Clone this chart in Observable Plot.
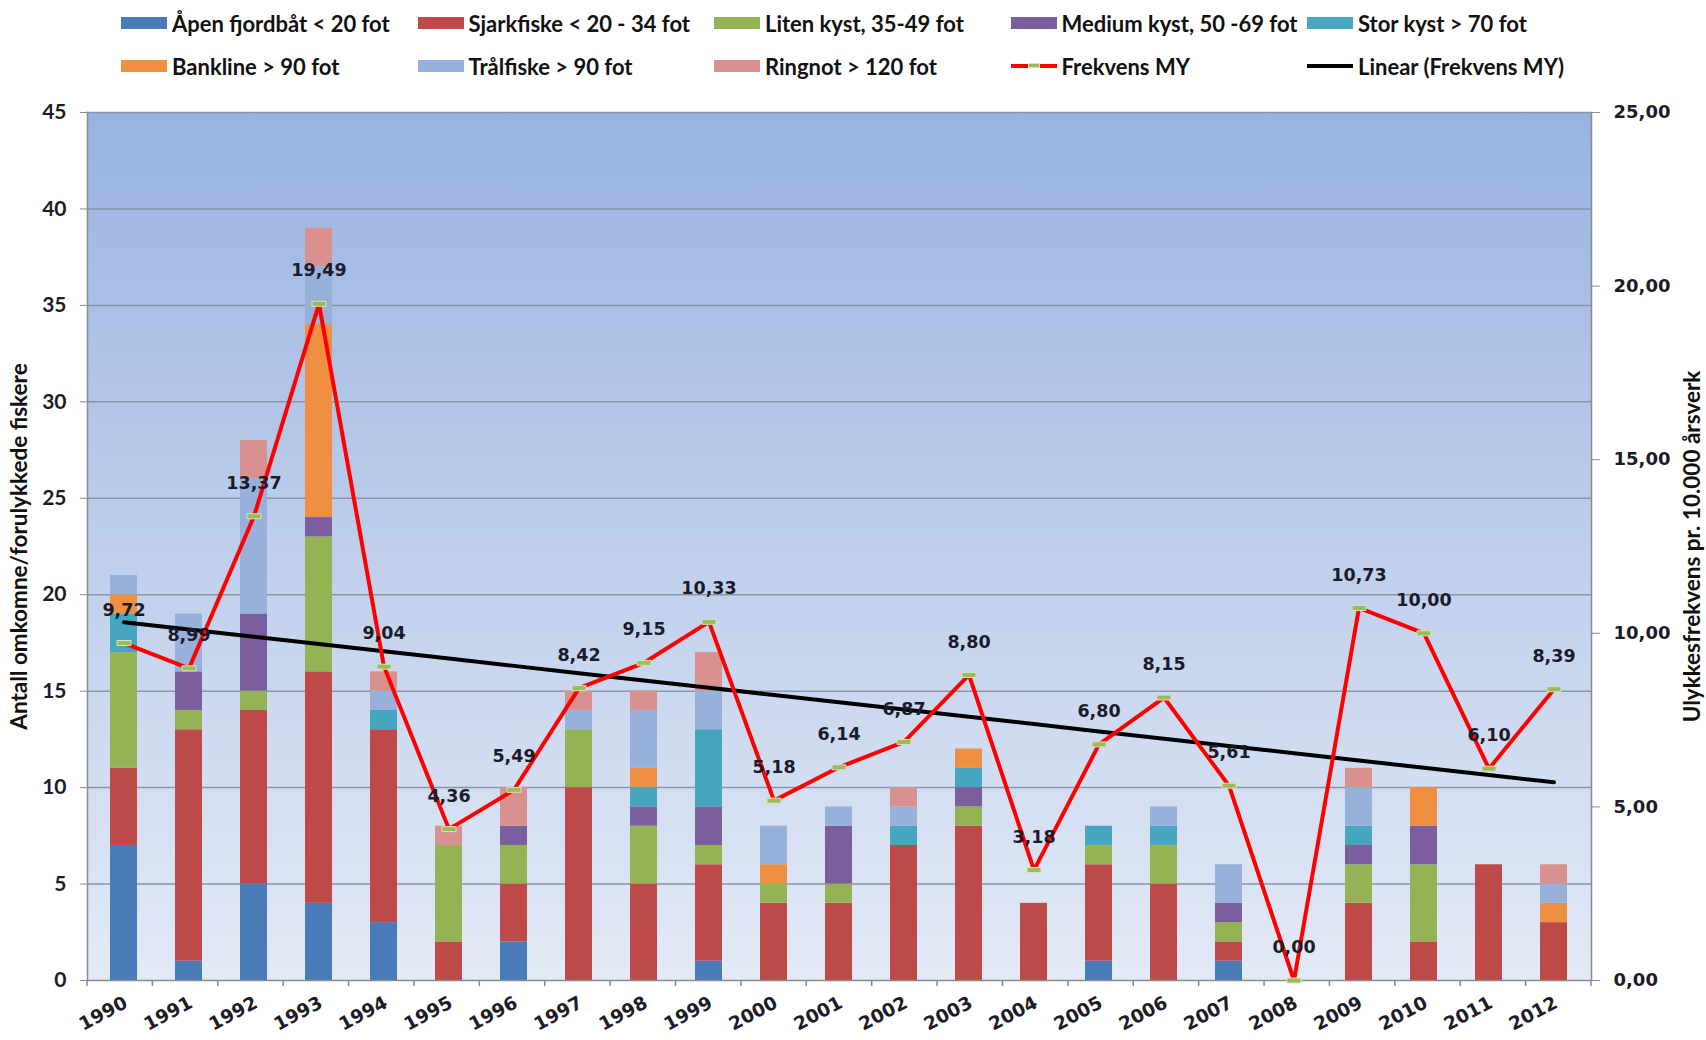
<!DOCTYPE html>
<html><head><meta charset="utf-8">
<script src="https://cdn.jsdelivr.net/npm/d3@7"></script>
<script src="https://cdn.jsdelivr.net/npm/@observablehq/plot@0.6"></script>
<style>
body{margin:0;background:#fff;width:1706px;height:1040px;overflow:hidden;}
#legend{position:relative;height:95px;width:1706px;font-family:Lato, sans-serif;font-weight:bold;font-size:22px;color:#111;}
.item{position:absolute;display:flex;align-items:center;height:28px;white-space:nowrap;}
.sw{width:46px;height:12px;margin-right:5px;}
.ln{width:46px;height:4px;margin-right:5px;position:relative;}
.mk{position:absolute;left:17px;top:-1px;width:12px;height:5px;background:#9bbb59;border:0.5px solid #d7e4bd;box-sizing:border-box;}
#chart svg{display:block;}
</style></head><body>
<div id="legend"></div>
<div id="chart"></div>
<script>
const years = ["1990","1991","1992","1993","1994","1995","1996","1997","1998","1999","2000","2001","2002","2003","2004","2005","2006","2007","2008","2009","2010","2011","2012"];
const categories = ["Åpen fjordbåt < 20 fot","Sjarkfiske < 20 - 34 fot","Liten kyst, 35-49 fot","Medium kyst, 50 -69 fot","Stor kyst > 70 fot","Bankline > 90 fot","Trålfiske > 90 fot","Ringnot > 120 fot"];
const colors = ["#4a7bb9","#bd4a48","#93b355","#7b5e9e","#46a6bf","#ef8f42","#98b1da","#d9918f"];
const aapen    = [7,1,5,4,3,0,2,0,0,1,0,0,0,0,0,1,0,1,0,0,0,0,0];
const sjark    = [4,12,9,12,10,2,3,10,5,5,4,4,7,8,4,5,5,1,0,4,2,6,3];
const liten    = [6,1,1,7,0,5,2,3,3,1,1,1,0,1,0,1,2,1,0,2,4,0,0];
const medium   = [0,2,4,1,0,0,1,0,1,2,0,3,0,1,0,0,0,1,0,1,2,0,0];
const stor     = [2,0,0,0,1,0,0,0,1,4,0,0,1,1,0,1,1,0,0,1,0,0,0];
const bankline = [1,0,0,10,0,0,0,0,1,0,1,0,0,1,0,0,0,0,0,0,2,0,1];
const traal    = [1,3,7,3,1,0,0,1,3,2,2,1,1,0,0,0,1,2,0,2,0,0,1];
const ringnot  = [0,0,2,2,1,1,2,1,1,2,0,0,1,0,0,0,0,0,0,1,0,0,1];
const frekvens = [9.72,8.99,13.37,19.49,9.04,4.36,5.49,8.42,9.15,10.33,5.18,6.14,6.87,8.80,3.18,6.80,8.15,5.61,0.00,10.73,10.00,6.10,8.39];
const leftTicks = [0,5,10,15,20,25,30,35,40,45];
const rightTicks = [0,5,10,15,20,25];
const leftTitle = "Antall omkomne/forulykkede fiskere";
const rightTitle = "Ulykkesfrekvens pr. 10.000 årsverk";
const lineName = "Frekvens MY";
const trendName = "Linear (Frekvens MY)";

// legend
const legend = document.getElementById("legend");
const items = categories.map((c,i)=>({name:c, type:"bar", color:colors[i]}));
items.push({name:lineName, type:"line"}, {name:trendName, type:"trend"});
items.forEach((it,i)=>{
  const row = i < 5 ? 0 : 1, col = i % 5;
  const d = document.createElement("div");
  d.className = "item";
  d.style.left = (121 + col*296.5) + "px";
  d.style.top = (row === 0 ? 9 : 52) + "px";
  let sw;
  if (it.type === "bar") { sw = document.createElement("div"); sw.className = "sw"; sw.style.background = it.color; }
  else if (it.type === "line") { sw = document.createElement("div"); sw.className = "ln"; sw.style.background = "#ff0000"; const m = document.createElement("div"); m.className = "mk"; sw.appendChild(m); }
  else { sw = document.createElement("div"); sw.className = "ln"; sw.style.background = "#000"; }
  d.appendChild(sw);
  const t = document.createElement("span"); t.textContent = it.name; d.appendChild(t);
  legend.appendChild(d);
});

const series = [aapen, sjark, liten, medium, stor, bankline, traal, ringnot];
const stacked = [];
categories.forEach((c, ci) => years.forEach((y, yi) => stacked.push({year: y, category: c, value: series[ci][yi]})));
const K = 45/25;
const freq = years.map((y,i)=>({year:y, f:frekvens[i]}));
const xs = d3.range(years.length);
const mx = d3.mean(xs), my = d3.mean(frekvens);
const slope = d3.sum(xs, i => (i-mx)*(frekvens[i]-my)) / d3.sum(xs, i => (i-mx)**2);
const trend = years.map((y,i)=>({year:y, t: my + slope*(i-mx)}));
const fmt = v => v.toFixed(2).replace(".", ",");
const dash = {draw(ctx){ ctx.rect(-7,-2.5,14,5); }};

const defs = () => {
  const g = d3.create("svg:defs");
  const lg = g.append("linearGradient").attr("id","bg").attr("x1",0).attr("y1",0).attr("x2",0).attr("y2",1);
  lg.append("stop").attr("offset","0%").attr("stop-color","#99b3e1");
  lg.append("stop").attr("offset","100%").attr("stop-color","#e3eaf6");
  return g.node();
};
// small category-boundary ticks under the x axis
const boundaryTicks = (index, scales, values, dim) => {
  const g = d3.create("svg:g").attr("stroke", "#8a8a8a").attr("stroke-width", 1.5);
  const x0 = dim.marginLeft, w = dim.width - dim.marginLeft - dim.marginRight;
  const n = years.length, step = w / n, yb = dim.height - dim.marginBottom;
  for (let i = 0; i <= n; i++) g.append("line").attr("x1", x0 + i*step).attr("x2", x0 + i*step).attr("y1", yb).attr("y2", yb + 6);
  return g.node();
};

const plot = Plot.plot({
  width: 1706, height: 945,
  marginTop: 17, marginBottom: 60, marginLeft: 87, marginRight: 115,
  x: {domain: years, paddingInner: 0.58, paddingOuter: 0.29},
  y: {domain: [0, 45]},
  color: {domain: categories, range: colors},
  style: {fontFamily: "DejaVu Sans", color: "#1c1c28", background: "transparent"},
  marks: [
    defs,
    Plot.frame({fill: "url(#bg)", stroke: "none"}),
    Plot.gridY(leftTicks.slice(1), {stroke: "#8895a8", strokeOpacity: 1, strokeWidth: 1.5}),
    Plot.barY(stacked, {x: "year", y: "value", fill: "category"}),
    Plot.frame({anchor: "left", stroke: "#8a8a8a", strokeWidth: 1.5}),
    Plot.frame({anchor: "right", stroke: "#8a8a8a", strokeWidth: 1.5}),
    Plot.frame({anchor: "bottom", stroke: "#8a8a8a", strokeWidth: 1.5}),
    boundaryTicks,
    Plot.line(trend, {x: "year", y: d => d.t*K, stroke: "#000", strokeWidth: 4}),
    Plot.line(freq, {x: "year", y: d => d.f*K, stroke: "#ff0000", strokeWidth: 4}),
    Plot.dot(freq, {x: "year", y: d => d.f*K, symbol: dash, fill: "#9bbb59", stroke: "#d7e4bd", strokeWidth: 1}),
    Plot.text(freq, {x: "year", y: d => d.f*K, text: d => fmt(d.f), dy: -33, fontSize: 17.5, fontWeight: "bold", fontFamily: "DejaVu Sans", fill: "#1b1b2b"}),
    Plot.axisY(leftTicks, {anchor: "left", tickSize: 7, tickPadding: 14, fontSize: 21, fontFamily: "Lato", fontWeight: "bold", label: null, stroke: "#888"}),
    Plot.axisY(rightTicks.map(v => v*K), {anchor: "right", tickSize: 8, tickPadding: 14, tickFormat: d => fmt(d/K), fontSize: 18, fontFamily: "DejaVu Sans", fontWeight: "bold", label: null, stroke: "#888"}),
    Plot.axisX({tickRotate: -28, tickSize: 0, tickPadding: 12, dy: 9, dx: 2, fontSize: 18.5, fontFamily: "DejaVu Sans", fontWeight: "bold", label: null}),
    Plot.text([leftTitle], {text: d => d, frameAnchor: "left", textAnchor: "middle", dx: -68, rotate: -90, fontSize: 22.5, fontFamily: "Lato", fontWeight: "bold", fill: "#111"}),
    Plot.text([rightTitle], {text: d => d, frameAnchor: "right", textAnchor: "middle", dx: 101, rotate: -90, fontSize: 22.5, fontFamily: "Lato", fontWeight: "bold", fill: "#111"})
  ]
});
document.getElementById("chart").appendChild(plot);
</script>
</body></html>
